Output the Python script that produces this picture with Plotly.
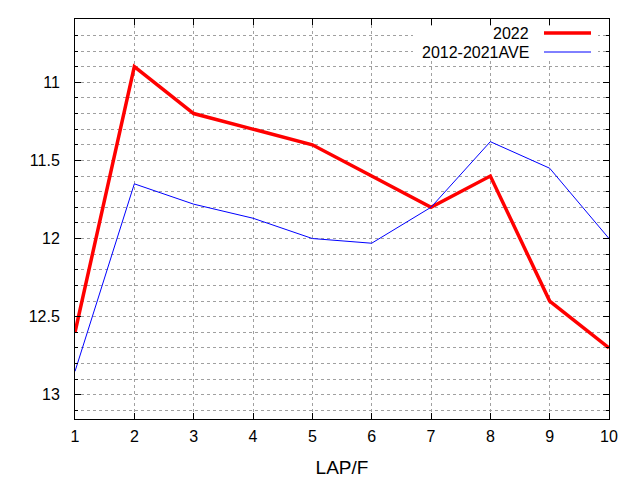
import plotly.graph_objects as go

laps = [1, 2, 3, 4, 5, 6, 7, 8, 9, 10]
y2022 = [12.6, 10.9, 11.2, 11.3, 11.4, 11.6, 11.8, 11.6, 12.4, 12.7]
y_ave = [12.85, 11.65, 11.78, 11.87, 12.0, 12.03, 11.8, 11.38, 11.55, 12.0]

names = ["2022", "2012-2021AVE"]
colors = ["#ff0000", "#0000ff"]
widths = [3.5, 1]

fig = go.Figure()
fig.add_trace(go.Scatter(x=laps, y=y2022, mode="lines", name=names[0],
                         line=dict(color=colors[0], width=widths[0])))
fig.add_trace(go.Scatter(x=laps, y=y_ave, mode="lines", name=names[1],
                         line=dict(color=colors[1], width=widths[1])))

grid = dict(gridcolor="#a0a0a0", griddash="3px,3px", gridwidth=1)

# page body has an 8px margin, so shift the plot area up/left by 8
fig.update_layout(
    width=640, height=480,
    margin=dict(l=67, r=39, t=11, b=69),
    plot_bgcolor="white", paper_bgcolor="white",
    font=dict(family="Liberation Sans, Arial", size=16, color="black"),
    showlegend=False,
    xaxis=dict(range=[1, 10], dtick=1, tick0=1, showgrid=True, **grid,
               zeroline=False, showline=True, linecolor="black", linewidth=1,
               mirror="ticks", ticks="inside", ticklen=6, tickcolor="black",
               ticklabelstandoff=3,
               title=dict(text="LAP/F", standoff=16)),
    yaxis=dict(range=[13.155, 10.595], dtick=0.5, tick0=11, showgrid=True, **grid,
               zeroline=False, showline=True, linecolor="black", linewidth=1,
               mirror="ticks", ticks="inside", ticklen=6, tickcolor="black",
               ticklabelstandoff=11,
               minor=dict(dtick=0.1, showgrid=True, ticks="inside", ticklen=3,
                          tickcolor="black", **grid)),
)

# gnuplot-style key: white box over the grid (below the top ticks),
# text on the left, sample line on the right
fig.add_shape(type="rect", xref="paper", yref="paper", layer="above",
              x0=(413 - 75) / 534, x1=(598 - 75) / 534,
              y0=(419 - 60) / 400, y1=(419 - 26) / 400,
              fillcolor="white", line=dict(width=0))
key_y = [33, 52]
for name, color, w, yy in zip(names, colors, widths, key_y):
    fig.add_shape(type="line", xref="paper", yref="paper",
                  x0=(544 - 75) / 534, x1=(591 - 75) / 534,
                  y0=(419 - yy) / 400, y1=(419 - yy) / 400,
                  line=dict(color=color, width=w))
    fig.add_annotation(x=(531 - 75) / 534, y=(419 - yy) / 400, xref="paper", yref="paper",
                       text=name, showarrow=False, xanchor="right", yanchor="middle")

fig.write_html("out.html")
